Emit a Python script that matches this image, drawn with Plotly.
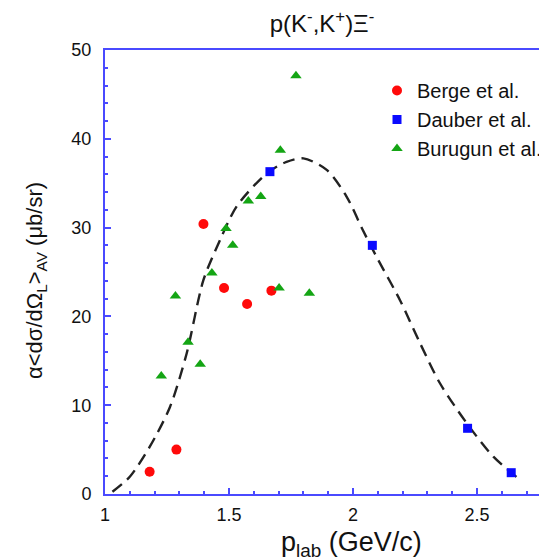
import plotly.graph_objects as go

# Data
berge_p = [1.180, 1.288, 1.397, 1.480, 1.573, 1.671]
berge_y = [2.5, 5.0, 30.4, 23.2, 21.4, 22.9]

dauber_p = [1.665, 2.078, 2.462, 2.638]
dauber_y = [36.3, 28.0, 7.4, 2.4]

burugun_p = [1.227, 1.284, 1.335, 1.384, 1.431, 1.488, 1.515, 1.578, 1.628,
             1.702, 1.707, 1.770, 1.824]
burugun_y = [13.3, 22.3, 17.1, 14.6, 24.9, 29.9, 28.0, 33.0, 33.5,
             23.2, 38.7, 47.1, 22.6]

curve_p = [1.03, 1.10, 1.18, 1.262, 1.329, 1.397, 1.464, 1.531, 1.652, 1.732,
           1.80, 1.894, 1.974, 2.04, 2.095, 2.19, 2.27, 2.35, 2.458, 2.566, 2.66]
curve_y = [0.26, 1.95, 5.3, 9.8, 15.8, 24.1, 28.6, 32.4, 36.1, 37.4,
           37.8, 36.5, 33.5, 29.7, 26.7, 21.8, 17.0, 12.5, 8.0, 4.2, 1.9]

x_ticks = [1, 1.5, 2, 2.5]
x_ticklabels = ["1", "1.5", "2", "2.5"]
y_ticks = [0, 10, 20, 30, 40, 50]

FONT = "Liberation Sans, Arial, sans-serif"
AXIS_COLOR = "#4a4aff"
TXT = "#111111"

fig = go.Figure()

fig.add_trace(go.Scatter(
    x=curve_p, y=curve_y, mode="lines", showlegend=False,
    line=dict(color="#222222", width=2.4, dash="12px,7px", shape="spline", smoothing=0.8),
    hoverinfo="skip"))

fig.add_trace(go.Scatter(
    x=berge_p, y=berge_y, mode="markers", name="Berge et al.", legendgroup="a",
    marker=dict(symbol="circle", size=10, color="#ff0a0a")))
fig.add_trace(go.Scatter(
    x=dauber_p, y=dauber_y, mode="markers", name="Dauber et al.", legendgroup="b",
    marker=dict(symbol="square", size=9, color="#0a0aff")))
fig.add_trace(go.Scatter(
    x=burugun_p, y=burugun_y, mode="markers", name="Burugun et al.", legendgroup="c",
    marker=dict(symbol="triangle-up", size=10, color="#14a514")))

# The page puts the figure 8 px in from the top-left corner of the window
W, H = 539, 551
L, R, T, B = 97, 0, 42, 65
pw = W - L - R
ph = H - T - B

def px_x(x):  # figure pixel -> paper x
    return (x - L) / pw

def px_y(y):  # figure pixel -> paper y
    return (H - B - y) / ph

fig.update_layout(
    width=W, height=H,
    margin=dict(l=L, r=R, t=T, b=B, autoexpand=False),
    paper_bgcolor="white", plot_bgcolor="white",
    font=dict(family=FONT, size=18, color=TXT),
    title=dict(text="p(K<sup>-</sup>,K<sup>+</sup>)Ξ<sup>-</sup>",
               x=314 / W, xref="container", xanchor="center",
               y=1 - 16 / H, yref="container", yanchor="middle",
               font=dict(family=FONT, size=24, color=TXT)),
    legend=dict(x=1.0, y=px_y(63), xanchor="right", yanchor="top",
                bgcolor="rgba(0,0,0,0)", borderwidth=0,
                font=dict(family=FONT, size=20, color=TXT),
                tracegroupgap=0, itemwidth=30, traceorder="grouped"),
    xaxis=dict(range=[1, 1 + pw / 248.0], tickvals=x_ticks, ticktext=x_ticklabels,
               showgrid=False, zeroline=False,
               showline=True, linecolor=AXIS_COLOR, linewidth=2, mirror=True,
               ticks="inside", ticklen=6, tickwidth=1.5, tickcolor=AXIS_COLOR,
               ticklabelstandoff=3,
               minor=dict(dtick=0.1, ticks="inside", ticklen=3, tickcolor=AXIS_COLOR, tickwidth=1.5),
               tickfont=dict(family=FONT, size=18, color=TXT)),
    yaxis=dict(range=[0, 50], tickvals=y_ticks,
               showgrid=False, zeroline=False,
               showline=True, linecolor=AXIS_COLOR, linewidth=2, mirror="ticks",
               ticks="inside", ticklen=6, tickwidth=1.5, tickcolor=AXIS_COLOR,
               ticklabelstandoff=8,
               minor=dict(dtick=2, ticks="inside", ticklen=3, tickcolor=AXIS_COLOR, tickwidth=1.5),
               tickfont=dict(family=FONT, size=18, color=TXT)),
    annotations=[
        dict(text="p<sub>lab</sub> (GeV/c)", xref="paper", yref="paper",
             x=px_x(343), y=px_y(536), xanchor="center", yanchor="middle",
             showarrow=False, font=dict(family=FONT, size=27, color=TXT)),
        dict(text="α<dσ/dΩ<sub>L</sub>><sub>AV</sub> (μb/sr)", xref="paper", yref="paper",
             x=px_x(28), y=px_y(273), xanchor="center", yanchor="middle",
             textangle=-90, showarrow=False,
             font=dict(family=FONT, size=22, color=TXT)),
    ],
)

fig.write_html("out.html")
